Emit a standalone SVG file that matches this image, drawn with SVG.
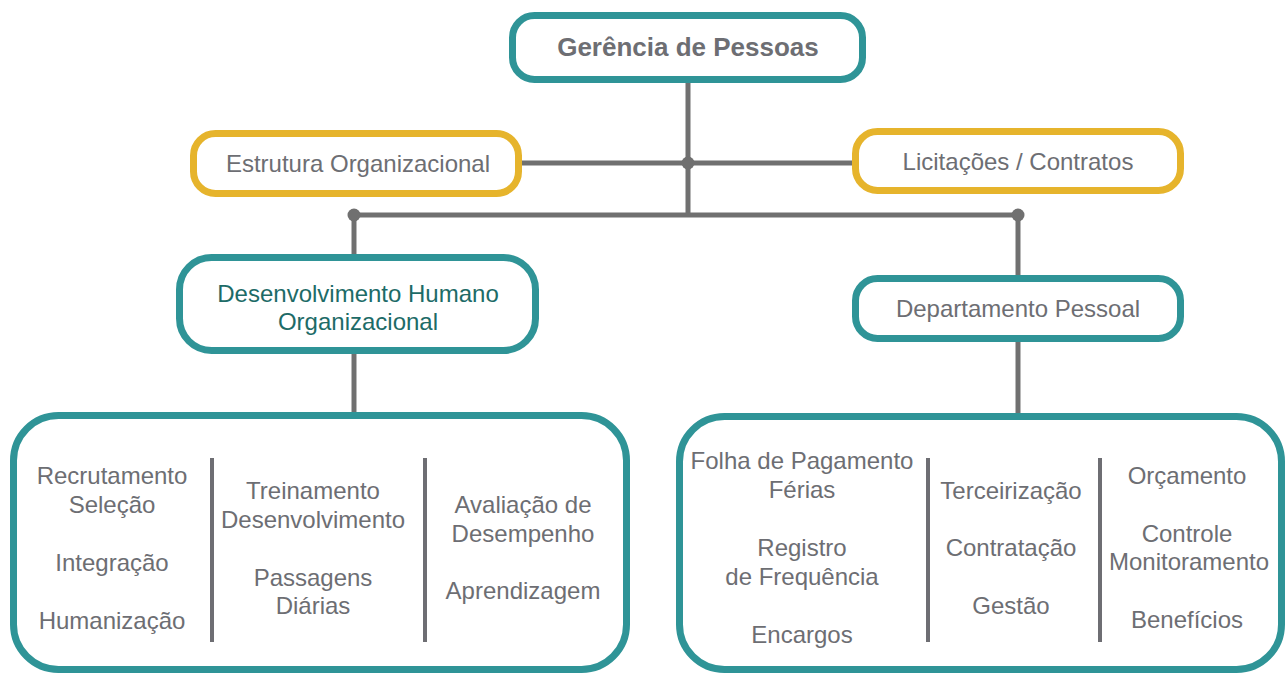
<svg xmlns="http://www.w3.org/2000/svg" width="1287" height="674" viewBox="0 0 1287 674">
<defs>
<style>
.teal{fill:#fff;stroke:#2F9497;stroke-width:7}
.gold{fill:#fff;stroke:#E6B42C;stroke-width:7}
.conn{stroke:#707070;stroke-width:5;fill:none}
.sep{stroke:#6E6E73;stroke-width:4}
.dot{fill:#707070}
text{font-family:"Liberation Sans",Arial,sans-serif;font-size:24px;fill:#6D6E73;text-anchor:middle}
.title{font-weight:bold;font-size:26px}
.dho{fill:#1D6B67}
</style>
</defs>
<rect width="1287" height="674" fill="#fff"/>
<g id="connectors">
<line class="conn" x1="688" y1="82" x2="688" y2="215"/>
<line class="conn" x1="521" y1="163" x2="853" y2="163"/>
<line class="conn" x1="354" y1="215" x2="1018" y2="215"/>
<line class="conn" x1="354" y1="215" x2="354" y2="256"/>
<line class="conn" x1="354" y1="352" x2="354" y2="414"/>
<line class="conn" x1="1018" y1="215" x2="1018" y2="277"/>
<line class="conn" x1="1018" y1="340" x2="1018" y2="415"/>
<circle class="dot" cx="688" cy="163" r="6.5"/>
<circle class="dot" cx="354" cy="215" r="6.5"/>
<circle class="dot" cx="1018" cy="215" r="6.5"/>
</g>
<g id="gerencia">
<rect class="teal" x="512.5" y="15.5" width="350" height="64" rx="22"/>
<text class="title" x="688" y="56">Gerência de Pessoas</text>
</g>
<g id="estrutura">
<rect class="gold" x="193.5" y="133.5" width="325" height="60" rx="22"/>
<text x="358" y="172">Estrutura Organizacional</text>
</g>
<g id="licitacoes">
<rect class="gold" x="855.5" y="131.5" width="325" height="59" rx="22"/>
<text x="1018" y="170">Licitações / Contratos</text>
</g>
<g id="dho">
<rect class="teal" x="179.5" y="257.5" width="356" height="93" rx="32"/>
<text class="dho" x="358" y="302">Desenvolvimento Humano</text>
<text class="dho" x="358" y="330">Organizacional</text>
</g>
<g id="dp">
<rect class="teal" x="855.5" y="278.5" width="325" height="60" rx="22"/>
<text x="1018" y="317">Departamento Pessoal</text>
</g>
<g id="dho-itens">
<rect class="teal" x="13.5" y="415.5" width="613" height="254" rx="45"/>
<line class="sep" x1="212" y1="458" x2="212" y2="642"/>
<line class="sep" x1="425" y1="458" x2="425" y2="642"/>
<text x="112" y="484">Recrutamento</text>
<text x="112" y="513">Seleção</text>
<text x="112" y="571">Integração</text>
<text x="112" y="629">Humanização</text>
<text x="313" y="499">Treinamento</text>
<text x="313" y="528">Desenvolvimento</text>
<text x="313" y="586">Passagens</text>
<text x="313" y="614">Diárias</text>
<text x="523" y="513">Avaliação de</text>
<text x="523" y="542">Desempenho</text>
<text x="523" y="599">Aprendizagem</text>
</g>
<g id="dp-itens">
<rect class="teal" x="679.5" y="416.5" width="602" height="253" rx="45"/>
<line class="sep" x1="928" y1="458" x2="928" y2="642"/>
<line class="sep" x1="1100" y1="458" x2="1100" y2="642"/>
<text x="802" y="469">Folha de Pagamento</text>
<text x="802" y="498">Férias</text>
<text x="802" y="556">Registro</text>
<text x="802" y="585">de Frequência</text>
<text x="802" y="643">Encargos</text>
<text x="1011" y="499">Terceirização</text>
<text x="1011" y="556">Contratação</text>
<text x="1011" y="614">Gestão</text>
<text x="1187" y="484">Orçamento</text>
<text x="1187" y="542">Controle</text>
<text x="1189" y="570">Monitoramento</text>
<text x="1187" y="628">Benefícios</text>
</g>
</svg>
